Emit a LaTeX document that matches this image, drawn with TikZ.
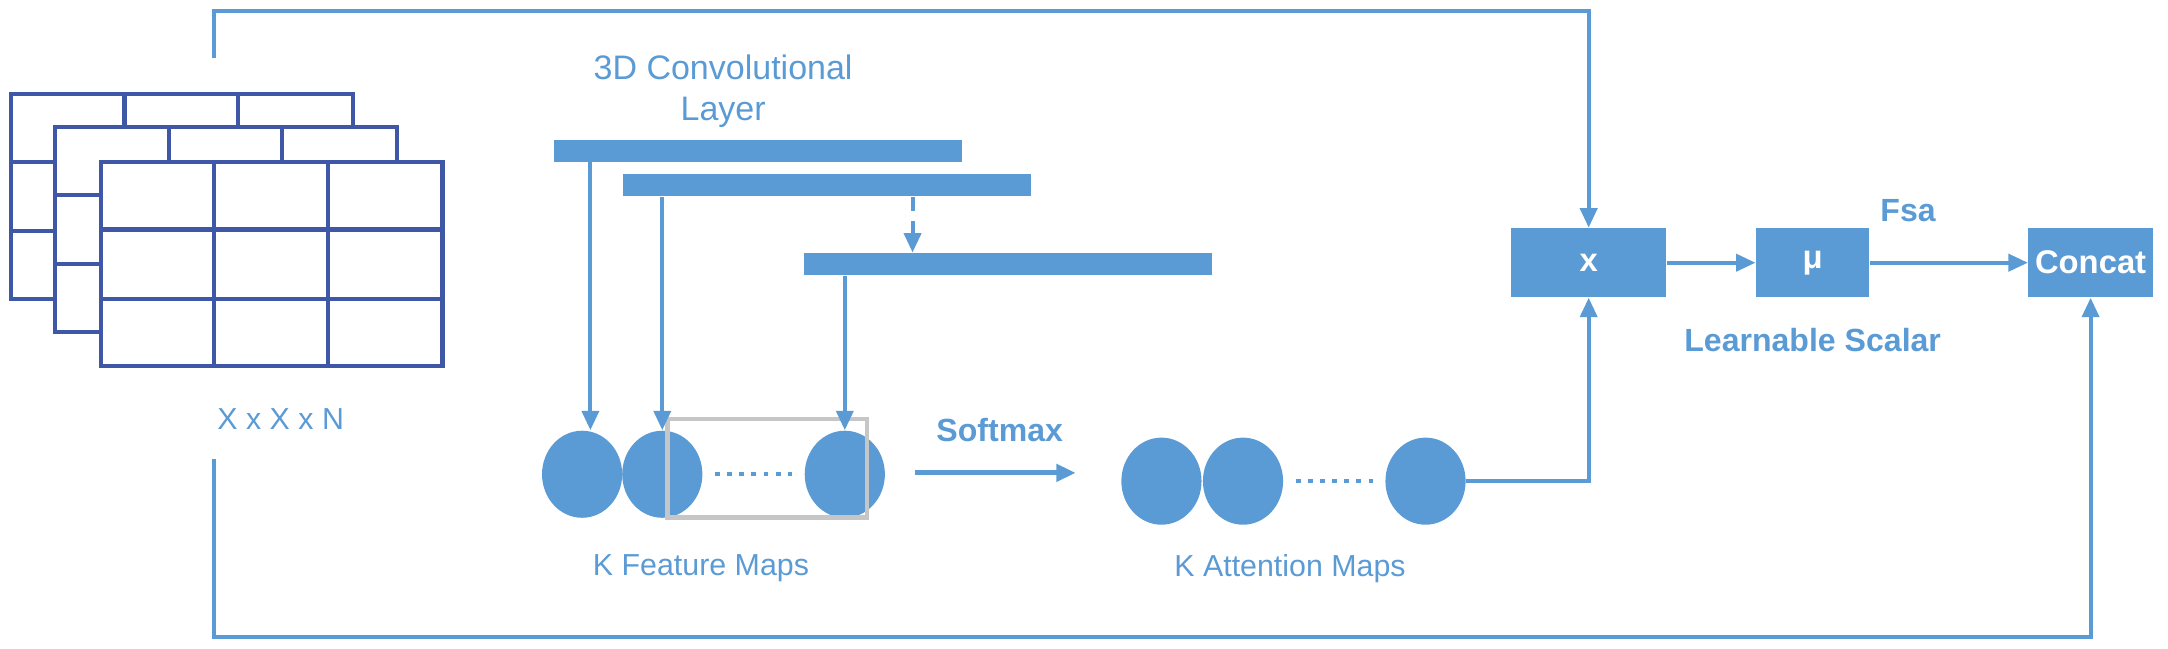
\documentclass[tikz,border=0pt]{standalone}
\usepackage{fontspec}
\setmainfont{Liberation Sans}
\usetikzlibrary{arrows.meta,positioning,shapes.geometric}
\definecolor{boxblue}{HTML}{5B9BD5}
\definecolor{gridblue}{HTML}{3F57A7}
\begin{document}
\begin{tikzpicture}[
  x=0.02cm, y=-0.02cm,
  conn/.style={draw=boxblue, line width=1.6pt,
    -{Triangle[length=8pt,width=7pt]}},
  bar/.style={fill=boxblue, minimum width=5.9cm, minimum height=0.32cm,
    inner sep=0pt},
  fmap/.style={ellipse, fill=boxblue, minimum width=1.16cm,
    minimum height=1.26cm, inner sep=0pt},
  block/.style={fill=boxblue, minimum height=1cm, inner sep=0pt,
    text=white, font=\fontsize{13.5}{15}\selectfont\bfseries},
  lbl/.style={text=boxblue, font=\fontsize{12.5}{15}\selectfont, align=center},
  blbl/.style={lbl, font=\fontsize{13.2}{15}\selectfont\bfseries},
  gridline/.style={draw=gridblue, line width=1.7pt, fill=white}
]
\useasboundingbox (0,0) rectangle (1568,469);
% input stack of feature grids
\foreach \dx/\dy in {8/68, 40/92, 73/117} {
  \filldraw[gridline] (\dx,\dy) rectangle ++(247,148);
  \draw[gridline] (\dx+82,\dy) -- ++(0,148) (\dx+164,\dy) -- ++(0,148)
    (\dx,\dy+49) -- ++(247,0) (\dx,\dy+99) -- ++(247,0);
}
\node[lbl] (insize) at (203,303) {X x X x N};

% convolutional layers
\node[lbl, font=\fontsize{14}{17}\selectfont] (convlbl) at (523,66)
  {3D Convolutional\\Layer};
\node[bar] (bar1) at (548,109) {};
\node[bar] (bar2) at (598,134) {};
\node[bar] (bar3) at (729,191) {};

% feature maps
\node[fmap] (f1) at (421,343) {};
\node[fmap] (f2) at (479,343) {};
\node[fmap] (f3) at (611,343) {};
\draw[boxblue, line width=1.8pt, dash pattern=on 2pt off 3pt,
  shorten <=5pt, shorten >=5pt] (f2.east) -- (f3.west);
\draw[gray!45, line width=2pt] (483,303) rectangle (627,374);
\node[lbl] (fmlbl) at (507,411) {K Feature Maps};

\coordinate (k1) at (427,0);
\coordinate (kd) at (660,0);
\draw[conn] (bar1.south -| k1) -- (f1.north -| k1);
\draw[conn] (bar2.south -| f2) -- (f2.north);
\draw[conn] (bar3.south -| f3) -- (f3.north);
\draw[conn, dash pattern=on 6pt off 4pt on 30pt] (bar2.south -| kd)
  -- (bar3.north -| kd);

% softmax
\coordinate (smfrom) at (662,342);
\coordinate (smto) at (778,342);
\draw[conn, line width=2pt] (smfrom) -- (smto);
\node[blbl] (smlbl) at (723,311) {Softmax};

% attention maps
\node[fmap] (a1) at (840,348) {};
\node[fmap] (a2) at (899,348) {};
\node[fmap] (a3) at (1031,348) {};
\draw[boxblue, line width=1.8pt, dash pattern=on 2pt off 3pt,
  shorten <=5pt, shorten >=5pt] (a2.east) -- (a3.west);
\node[lbl] (amlbl) at (933,411) {K Attention Maps};

% product, scalar and concat
\node[block, minimum width=2.24cm] (mult) at (1149,190) {x};
\node[block, minimum width=1.64cm] (mu) at (1311,190) {μ};
\node[block, minimum width=1.8cm] (concat) at (1512,190) {Concat};
\node[blbl] (fsalbl) at (1380,152) {Fsa};
\node[blbl] (scallbl) at (1311,246) {Learnable Scalar};

\draw[conn] (mult) -- (mu);
\draw[conn] (mu) -- (concat);
\draw[conn] (a3.east) -| (mult.south);

% skip connections
\coordinate (topstart) at (155,42);
\coordinate (botstart) at (155,332);
\draw[conn] (topstart) -- (155,8) -| (mult.north);
\draw[conn] (botstart) -- (155,461) -| (concat.south);
\end{tikzpicture}
\end{document}
